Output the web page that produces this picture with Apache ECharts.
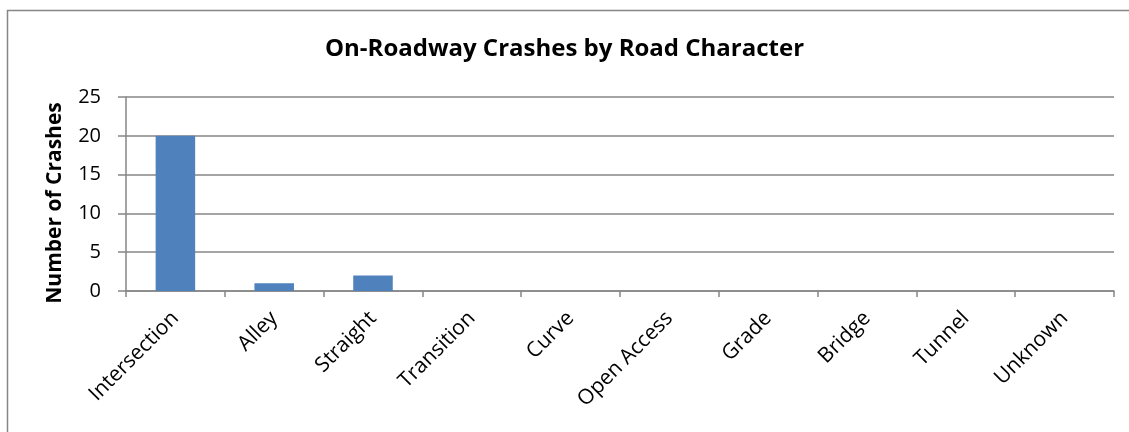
<!DOCTYPE html>
<html>
<head>
<meta charset="utf-8">
<script src="https://cdn.jsdelivr.net/npm/echarts@6/dist/echarts.min.js"></script>
<style>
  html, body { margin: 0; padding: 0; background: #fff; }
  #chart { width: 1129px; height: 432px; }
</style>
</head>
<body>
<div id="chart"></div>
<script>
// categories along the x axis
const categories = ["Intersection", "Alley", "Straight", "Transition", "Curve",
  "Open Access", "Grade", "Bridge", "Tunnel", "Unknown"];
// number of crashes per category
const crashes = [20, 1, 2, 0, 0, 0, 0, 0, 0, 0];
// y axis ticks
const yMin = 0;
const yMax = 25;
const yStep = 5;

const font = "'Open Sans', sans-serif";
const gridColor = "#868686";

const chart = echarts.init(document.getElementById("chart"));
chart.setOption({
  animation: false,
  backgroundColor: "#fff",
  title: {
    text: "On-Roadway Crashes by Road Character",
    left: "center",
    top: 32,
    textStyle: { fontFamily: font, fontSize: 24, fontWeight: "bold", color: "#000" },
  },
  // chart border (right / bottom edges are cut off in the picture)
  graphic: [
    {
      type: "rect",
      shape: { x: 7.5, y: 10.5, width: 1300, height: 600 },
      style: { fill: "none", stroke: gridColor, lineWidth: 1.5 },
      silent: true,
    },
  ],
  grid: {
    left: 126,
    right: 15,
    top: 97,
    bottom: 141,
  },
  xAxis: {
    type: "category",
    data: categories,
    axisLine: { lineStyle: { color: gridColor, width: 1.5 } },
    axisTick: { show: true, length: 6, lineStyle: { color: gridColor, width: 1.5 } },
    axisLabel: {
      rotate: 45,
      interval: 0,
      margin: 24,
      fontFamily: font,
      fontSize: 21,
      color: "#000",
    },
  },
  yAxis: {
    type: "value",
    min: yMin,
    max: yMax,
    interval: yStep,
    name: "Number of Crashes",
    nameLocation: "middle",
    nameGap: 60,
    nameTextStyle: {
      fontFamily: font,
      fontSize: 21,
      fontWeight: "bold",
      color: "#000",
      padding: [0, 18, 0, 0],
    },
    axisLine: { show: true, lineStyle: { color: gridColor, width: 1.5 } },
    axisTick: { show: true, length: 8, lineStyle: { color: gridColor, width: 1.5 } },
    axisLabel: { margin: 25, fontFamily: font, fontSize: 20, color: "#000" },
    splitLine: { lineStyle: { color: gridColor, width: 1.5 } },
  },
  series: [
    {
      name: "Crashes",
      type: "bar",
      data: crashes,
      barWidth: "40%",
      itemStyle: { color: "#4F81BD" },
    },
  ],
});
</script>
</body>
</html>
